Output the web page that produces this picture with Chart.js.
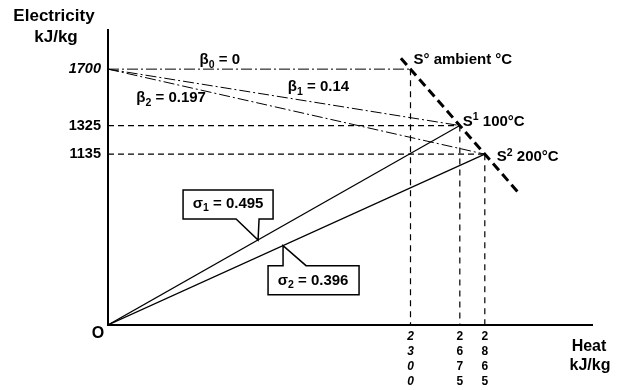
<!DOCTYPE html>
<html>
<head>
<meta charset="utf-8">
<script src="https://cdn.jsdelivr.net/npm/chart.js@4/dist/chart.umd.min.js"></script>
<style>
  body { margin: 0; background: #fff; }
  canvas { display: block; }
</style>
</head>
<body>
<canvas id="cogenChart" width="624" height="390"></canvas>
<script>
// states S°, S¹, S² (heat, electricity in kJ/kg)
var stateNames = ['S°', 'S¹', 'S²'];
var stateTemps = ['ambient °C', '100°C', '200°C'];
var heat = [2300, 2675, 2865];
var elec = [1700, 1325, 1135];
var betaIntercept = 1700;
var betas = [0, 0.14, 0.197];
var sigmas = [0.495, 0.396];
// ends of the thick dashed state line
var stateLineHeat = [2227, 3124];
var stateLineElec = [1773, 876];
var yTicks = [1135, 1325, 1700];
var xTicks = [2300, 2675, 2865];

var FONT = '"Liberation Sans", Arial, sans-serif';

function seg(x1, y1, x2, y2) {
    return [{ x: x1, y: y1 }, { x: x2, y: y2 }];
}

function lineSet(data, width, dash) {
    return {
        data: data,
        borderColor: '#000',
        borderWidth: width,
        borderDash: dash,
        pointRadius: 0,
        fill: false,
        tension: 0
    };
}

var datasets = [];
// beta lines (dash-dot) from the 1700 intercept
for (var i = 0; i < heat.length; i++) {
    datasets.push(lineSet(seg(0, betaIntercept, heat[i], elec[i]), 1, [11, 3, 2, 3]));
}
// sigma lines from origin
for (var i = 1; i < heat.length; i++) {
    datasets.push(lineSet(seg(0, 0, heat[i], elec[i]), 1.2, []));
}
// horizontal dashed guides
for (var i = 1; i < heat.length; i++) {
    datasets.push(lineSet(seg(0, elec[i], heat[i], elec[i]), 1.2, [6, 4]));
}
// vertical dashed guides
for (var i = 0; i < heat.length; i++) {
    datasets.push(lineSet(seg(heat[i], elec[i], heat[i], 0), 1.2, [6, 5]));
}
// thick state line
datasets.push(lineSet(seg(stateLineHeat[0], stateLineElec[0], stateLineHeat[1], stateLineElec[1]), 3, [9, 5]));

// text with subscripts / superscripts: parts = [[text, mode], ...]
function drawRich(ctx, parts, x, y, size, align) {
    var total = 0;
    parts.forEach(function (p) {
        var s = p[1] === 'n' ? size : size * 0.7;
        ctx.font = 'bold ' + s + 'px ' + FONT;
        total += ctx.measureText(p[0]).width;
    });
    var cx = align === 'center' ? x - total / 2 : x;
    ctx.textAlign = 'left';
    ctx.textBaseline = 'middle';
    parts.forEach(function (p) {
        var s = p[1] === 'n' ? size : size * 0.7;
        var dy = p[1] === 'sub' ? size * 0.3 : (p[1] === 'sup' ? -size * 0.3 : 0);
        ctx.font = 'bold ' + s + 'px ' + FONT;
        ctx.fillText(p[0], cx, y + dy);
        cx += ctx.measureText(p[0]).width;
    });
}

var labelsPlugin = {
    id: 'labels',
    afterDatasetsDraw: function (chart) {
        var ctx = chart.ctx;
        var xs = chart.scales.x, ys = chart.scales.y;
        var px = function (v) { return xs.getPixelForValue(v); };
        var py = function (v) { return ys.getPixelForValue(v); };
        ctx.save();
        ctx.fillStyle = '#000';

        // axis titles
        drawRich(ctx, [['Electricity', 'n']], 54, 16, 17, 'center');
        drawRich(ctx, [['kJ/kg', 'n']], 56, 37, 17, 'center');
        drawRich(ctx, [['Heat', 'n']], 589, 347, 16, 'center');
        drawRich(ctx, [['kJ/kg', 'n']], 590, 366, 16, 'center');
        drawRich(ctx, [['O', 'n']], 98, 334, 16, 'center');

        // beta labels
        var yb = py(betaIntercept);
        drawRich(ctx, [['β', 'n'], ['0', 'sub'], [' = ' + betas[0], 'n']], px(850), yb - 9, 15, 'center');
        drawRich(ctx, [['β', 'n'], ['1', 'sub'], [' = ' + betas[1], 'n']], px(1600), yb + 18, 15, 'center');
        drawRich(ctx, [['β', 'n'], ['2', 'sub'], [' = ' + betas[2], 'n']], px(480), yb + 29, 15, 'center');

        // state labels
        var offs = [[3, -9], [3, -4], [12, 3]];
        for (var i = 0; i < heat.length; i++) {
            var name = stateNames[i];
            drawRich(ctx, [[name.charAt(0), 'n'], [name === 'S°' ? '°' : (i === 1 ? '1' : '2'), name === 'S°' ? 'n' : 'sup'], [' ' + stateTemps[i], 'n']],
                px(heat[i]) + offs[i][0], py(elec[i]) + offs[i][1], 15, 'left');
        }

        // sigma callouts
        ctx.lineWidth = 1.5;
        ctx.strokeStyle = '#000';
        var h1 = 1141, t1 = { x: px(h1), y: py(sigmas[0] * h1) };
        ctx.beginPath();
        ctx.moveTo(t1.x - 22, t1.y - 21);
        ctx.lineTo(t1.x - 75, t1.y - 21);
        ctx.lineTo(t1.x - 75, t1.y - 50);
        ctx.lineTo(t1.x + 15, t1.y - 50);
        ctx.lineTo(t1.x + 15, t1.y - 21);
        ctx.lineTo(t1.x + 1, t1.y - 21);
        ctx.lineTo(t1.x, t1.y);
        ctx.closePath();
        ctx.fillStyle = '#fff';
        ctx.fill();
        ctx.stroke();
        ctx.fillStyle = '#000';
        drawRich(ctx, [['σ', 'n'], ['1', 'sub'], [' = ' + sigmas[0], 'n']], t1.x - 30, t1.y - 36, 15, 'center');

        var h2 = 1331, t2 = { x: px(h2), y: py(sigmas[1] * h2) };
        ctx.beginPath();
        ctx.moveTo(t2.x, t2.y);
        ctx.lineTo(t2.x, t2.y + 20);
        ctx.lineTo(t2.x - 15, t2.y + 20);
        ctx.lineTo(t2.x - 15, t2.y + 49);
        ctx.lineTo(t2.x + 76, t2.y + 49);
        ctx.lineTo(t2.x + 76, t2.y + 20);
        ctx.lineTo(t2.x + 23, t2.y + 20);
        ctx.closePath();
        ctx.fillStyle = '#fff';
        ctx.fill();
        ctx.stroke();
        ctx.fillStyle = '#000';
        drawRich(ctx, [['σ', 'n'], ['2', 'sub'], [' = ' + sigmas[1], 'n']], t2.x + 30, t2.y + 35, 15, 'center');

        ctx.restore();
    }
};

new Chart(document.getElementById('cogenChart'), {
    type: 'line',
    data: { datasets: datasets },
    options: {
        responsive: false,
        animation: false,
        layout: { padding: { left: 0, top: 30, right: 32, bottom: 0 } },
        plugins: {
            legend: { display: false },
            tooltip: { enabled: false }
        },
        scales: {
            x: {
                type: 'linear',
                min: 0,
                max: 3680,
                grid: { display: false, drawTicks: false },
                border: { display: true, color: '#000', width: 2 },
                afterBuildTicks: function (axis) {
                    axis.ticks = xTicks.map(function (v) { return { value: v }; });
                },
                afterFit: function (axis) { axis.height = 65; },
                ticks: {
                    autoSkip: false,
                    maxRotation: 0,
                    padding: 4,
                    color: '#000',
                    font: function (c) {
                        return { family: FONT, size: 12, weight: 'bold', lineHeight: 1.25,
                            style: c.tick && c.tick.value === 2300 ? 'italic' : 'normal' };
                    },
                    callback: function (v) { return String(v).split(''); }
                }
            },
            y: {
                type: 'linear',
                min: 0,
                max: 1960,
                grid: { display: false, drawTicks: false },
                border: { display: true, color: '#000', width: 2 },
                afterBuildTicks: function (axis) {
                    axis.ticks = yTicks.map(function (v) { return { value: v }; });
                },
                afterFit: function (axis) { axis.width = 108; },
                ticks: {
                    autoSkip: false,
                    padding: 7,
                    color: '#000',
                    font: function (c) {
                        return { family: FONT, size: 14.5, weight: 'bold',
                            style: c.tick && c.tick.value === 1700 ? 'italic' : 'normal' };
                    },
                    callback: function (v) { return String(v); }
                }
            }
        }
    },
    plugins: [labelsPlugin]
});
</script>
</body>
</html>
